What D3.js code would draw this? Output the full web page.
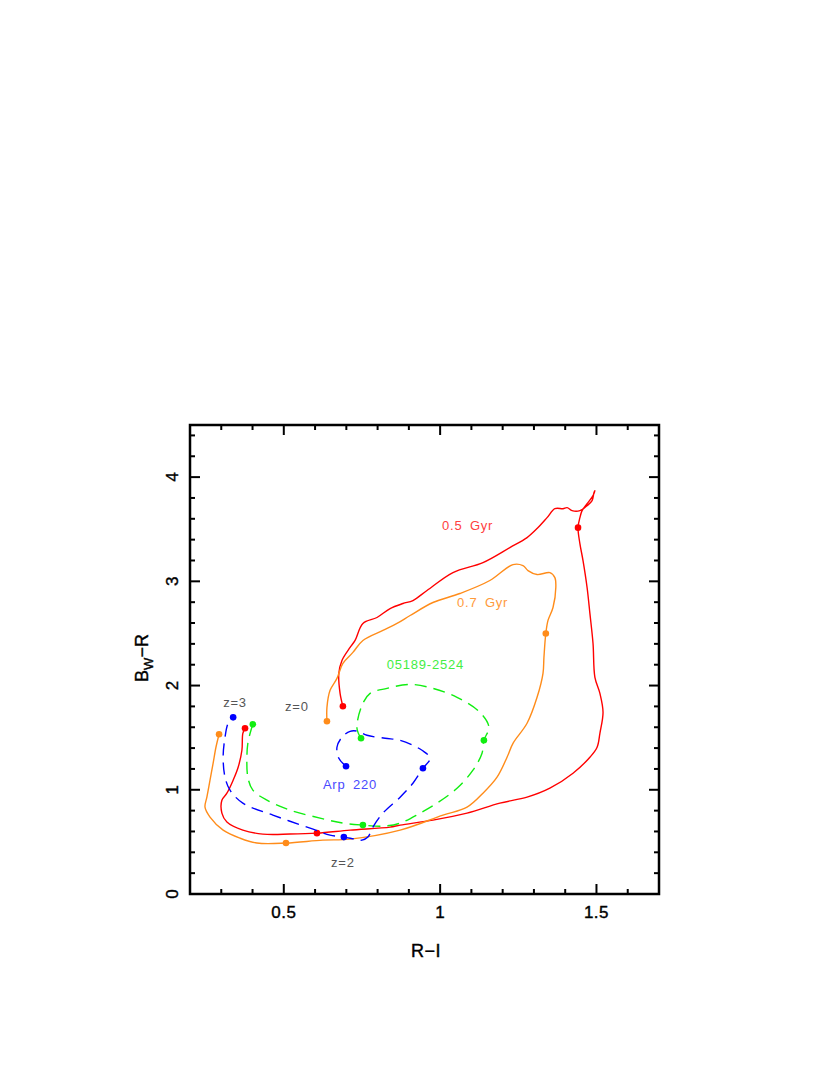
<!DOCTYPE html>
<html>
<head>
<meta charset="utf-8">
<script src="https://cdn.jsdelivr.net/npm/d3@7"></script>
<style>
  body { margin: 0; background: #fff; }
  text { font-family: "Liberation Sans", Arial, sans-serif; }
</style>
</head>
<body>
<div id="chart"></div>
<script>
// ********** colour-colour tracks (R-I , Bw-R) **********

// 0.5 Gyr burst track
const red05 = [
  [0.689,1.801],[0.680,1.925],[0.676,2.117],[0.686,2.241],[0.712,2.366],[0.728,2.433],
  [0.753,2.596],[0.798,2.653],[0.840,2.739],[0.881,2.787],[0.913,2.816],[0.958,2.912],
  [1.041,3.084],[1.137,3.180],[1.223,3.324],[1.278,3.420],[1.310,3.506],[1.342,3.611],
  [1.367,3.697],[1.393,3.697],[1.406,3.707],[1.422,3.678],[1.447,3.678],[1.470,3.726],
  [1.486,3.774],[1.492,3.851],[1.495,3.870],[1.489,3.822],[1.470,3.745],[1.454,3.678],
  [1.447,3.611],[1.441,3.515],[1.447,3.362],[1.457,3.199],[1.470,2.941],[1.479,2.692],
  [1.489,2.404],[1.495,2.079],[1.511,1.925],[1.521,1.743],[1.511,1.542],[1.502,1.408],
  [1.479,1.312],[1.425,1.159],[1.351,1.015],[1.278,0.929],[1.191,0.872],[1.086,0.776],
  [0.977,0.709],[0.872,0.661],[0.840,0.642],[0.712,0.613],[0.606,0.584],[0.520,0.575],
  [0.433,0.575],[0.369,0.613],[0.318,0.690],[0.302,0.776],[0.302,0.900],[0.318,0.967],
  [0.338,1.092],[0.354,1.216],[0.366,1.379],[0.369,1.542],[0.376,1.590]
];
const red05Dots = [[0.689,1.801],[1.441,3.515],[0.606,0.584],[0.376,1.590]];

// 0.7 Gyr burst track
const orange07 = [
  [0.638,1.657],[0.638,1.791],[0.648,1.954],[0.670,2.069],[0.689,2.213],[0.721,2.318],
  [0.753,2.433],[0.817,2.529],[0.862,2.596],[0.904,2.672],[0.977,2.797],[1.063,2.883],
  [1.159,3.008],[1.233,3.161],[1.265,3.151],[1.281,3.103],[1.310,3.065],[1.351,3.084],
  [1.367,3.036],[1.370,2.941],[1.361,2.749],[1.345,2.625],[1.338,2.500],[1.332,2.270],
  [1.329,2.117],[1.310,1.887],[1.278,1.638],[1.233,1.446],[1.214,1.312],[1.182,1.121],
  [1.137,0.967],[1.086,0.833],[1.009,0.757],[0.872,0.613],[0.712,0.527],[0.625,0.517],
  [0.507,0.489],[0.414,0.489],[0.360,0.536],[0.306,0.613],[0.264,0.738],[0.248,0.833],
  [0.254,0.929],[0.264,1.092],[0.274,1.255],[0.283,1.408],[0.293,1.533]
];
const orange07Dots = [[0.638,1.657],[1.338,2.500],[0.507,0.489],[0.293,1.533]];

// IRAS 05189-2524 template
const green05189 = [
  [0.747,1.494],[0.734,1.590],[0.750,1.810],[0.776,1.925],[0.830,1.973],[0.904,2.011],
  [0.977,1.973],[1.054,1.887],[1.127,1.743],[1.156,1.600],[1.140,1.475],[1.134,1.351],
  [1.105,1.188],[1.054,1.015],[0.990,0.872],[0.936,0.776],[0.872,0.680],[0.817,0.651],
  [0.753,0.661],[0.689,0.680],[0.616,0.728],[0.520,0.805],[0.446,0.900],[0.401,0.996],
  [0.385,1.121],[0.382,1.312],[0.385,1.446],[0.395,1.571],[0.401,1.628]
];
const green05189Dots = [[0.747,1.494],[1.140,1.475],[0.753,0.661],[0.401,1.628]];

// Arp 220 template
const blueArp220 = [
  [0.699,1.226],[0.676,1.303],[0.670,1.408],[0.686,1.504],[0.712,1.561],[0.737,1.561],
  [0.766,1.523],[0.824,1.494],[0.872,1.475],[0.942,1.379],[0.968,1.303],[0.945,1.207],
  [0.913,1.063],[0.872,0.929],[0.817,0.776],[0.785,0.642],[0.769,0.546],[0.750,0.517],
  [0.728,0.527],[0.692,0.546],[0.648,0.565],[0.584,0.632],[0.465,0.757],[0.369,0.872],
  [0.328,0.996],[0.312,1.121],[0.306,1.312],[0.312,1.504],[0.322,1.638],[0.338,1.695]
];
const blueArp220Dots = [[0.699,1.226],[0.945,1.207],[0.692,0.546],[0.338,1.695]];

// annotations: text, x, y (data units)
const labelTexts = ["0.5 Gyr", "0.7 Gyr", "05189-2524", "Arp 220", "z=3", "z=0", "z=2"];
const labelX = [1.006, 1.054, 0.829, 0.625, 0.306, 0.504, 0.651];
const labelY = [3.496, 2.749, 2.155, 1.006, 1.791, 1.753, 0.259];
const labelColors = ["#ff4040", "#ff9a3a", "#44ee44", "#4a4aff", "#555", "#555", "#555"];

const xTickLabels = [0.5, 1, 1.5];
const yTickLabels = [0, 1, 2, 3, 4];

const width = 830, height = 1075;
const margin = {left: 190, top: 425};
const plotW = 469, plotH = 469;

const svg = d3.select("#chart")
              .append("svg")
              .attr("width", width)
              .attr("height", height);

const x = d3.scaleLinear().domain([0.2, 1.7]).range([margin.left, margin.left + plotW]);
const y = d3.scaleLinear().domain([0, 4.5]).range([margin.top + plotH, margin.top]);

const line = d3.line()
               .x(d => x(d[0]))
               .y(d => y(d[1]))
               .curve(d3.curveCatmullRom.alpha(0.5));

const tracks = [
  {data: red05, dots: red05Dots, color: "#ff0000", dash: null},
  {data: orange07, dots: orange07Dots, color: "#ff8c1a", dash: null},
  {data: green05189, dots: green05189Dots, color: "#11ee11", dash: "12,7"},
  {data: blueArp220, dots: blueArp220Dots, color: "#0000ff", dash: "12,7"}
];

tracks.forEach(t => {
	svg.append("path")
	   .datum(t.data)
	   .attr("d", line)
	   .style("fill", "none")
	   .style("stroke", t.color)
	   .style("stroke-width", 1.4)
	   .style("stroke-dasharray", t.dash);

	svg.selectAll(null)
	   .data(t.dots)
	   .enter()
	   .append("circle")
	   .attr("cx", d => x(d[0]))
	   .attr("cy", d => y(d[1]))
	   .attr("r", 3.3)
	   .style("fill", t.color);
});

// labels
svg.selectAll("text.lab")
   .data(labelTexts)
   .enter()
   .append("text")
   .attr("class", "lab")
   .attr("x", (d, i) => x(labelX[i]))
   .attr("y", (d, i) => y(labelY[i]))
   .style("font-size", "13px")
   .style("letter-spacing", "0.8px")
   .style("word-spacing", "3px")
   .style("fill", (d, i) => labelColors[i])
   .text(d => d);

// axes: ticks on all four sides, pointing inward
const xMinor = d3.range(0.3, 1.7001, 0.1);
const yMinor = d3.range(0.2, 4.5001, 0.2);
const frame = svg.append("g");

xMinor.forEach(v => {
	const major = Math.abs(v * 2 - Math.round(v * 2)) < 1e-6;
	const len = major ? 10 : 5;
	frame.append("line").attr("x1", x(v)).attr("x2", x(v))
	     .attr("y1", y(0)).attr("y2", y(0) - len);
	frame.append("line").attr("x1", x(v)).attr("x2", x(v))
	     .attr("y1", y(4.5)).attr("y2", y(4.5) + len);
});
yMinor.forEach(v => {
	const major = Math.abs(v - Math.round(v)) < 1e-6;
	const len = major ? 10 : 5;
	frame.append("line").attr("x1", x(0.2)).attr("x2", x(0.2) + len)
	     .attr("y1", y(v)).attr("y2", y(v));
	frame.append("line").attr("x1", x(1.7)).attr("x2", x(1.7) - len)
	     .attr("y1", y(v)).attr("y2", y(v));
});
frame.selectAll("line").style("stroke", "#000").style("stroke-width", 2);

frame.append("rect")
     .attr("x", x(0.2)).attr("y", y(4.5))
     .attr("width", plotW).attr("height", plotH)
     .style("fill", "none")
     .style("stroke", "#000")
     .style("stroke-width", 2.5);

// tick labels
svg.selectAll("text.xt")
   .data(xTickLabels)
   .enter()
   .append("text")
   .attr("class", "xt")
   .attr("x", d => x(d))
   .attr("y", y(0) + 24)
   .attr("text-anchor", "middle")
   .style("font-size", "17px")
   .style("letter-spacing", "0.5px")
   .style("stroke", "#000").style("stroke-width", 0.4)
   .text(d => d);

svg.selectAll("text.yt")
   .data(yTickLabels)
   .enter()
   .append("text")
   .attr("class", "yt")
   .attr("transform", d => `translate(${x(0.2) - 12},${y(d)}) rotate(-90)`)
   .attr("text-anchor", "middle")
   .style("font-size", "17px")
   .style("stroke", "#000").style("stroke-width", 0.4)
   .text(d => d);

// axis titles
svg.append("text")
   .attr("x", 426)
   .attr("y", 957)
   .attr("text-anchor", "middle")
   .style("font-size", "18px")
   .style("letter-spacing", "0.5px")
   .style("stroke", "#000").style("stroke-width", 0.4)
   .text("R\u2212I");

const yTitle = svg.append("text")
   .attr("transform", "translate(148,658) rotate(-90)")
   .attr("text-anchor", "middle")
   .style("font-size", "18px")
   .style("stroke", "#000").style("stroke-width", 0.4);
yTitle.append("tspan").text("B");
yTitle.append("tspan").attr("dy", 5).style("font-size", "13px").text("W");
yTitle.append("tspan").attr("dy", -5).text("\u2212R");
</script>
</body>
</html>
